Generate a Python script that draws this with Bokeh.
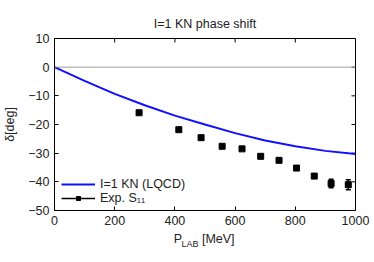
from bokeh.plotting import figure
from bokeh.models import (Span, ColumnDataSource, Legend, LegendItem,
                          FixedTicker, LinearAxis, Range1d)
from bokeh.embed import file_html
from bokeh.resources import INLINE

# LQCD curve
p_lab_curve = [0, 100, 200, 300, 400, 500, 600, 700, 800, 900, 1000]
delta_curve = [0.0, -4.8, -9.3, -13.3, -16.9, -20.0, -23.0, -25.6, -27.6, -29.2, -30.3]

# Experimental S11 phase shifts
p_lab_exp = [281, 413, 487, 557, 623, 685, 746, 804, 863, 919, 976]
delta_exp = [-15.9, -21.8, -24.6, -27.6, -28.5, -31.1, -32.5, -35.2, -38.0, -40.6, -41.0]
delta_err = [0.4, 0.4, 0.4, 0.4, 0.4, 0.4, 0.4, 0.5, 0.5, 1.5, 1.75]

x_ticks = [0, 200, 400, 600, 800, 1000]
y_ticks = [-50, -40, -30, -20, -10, 0, 10]

# pieces of the x-axis title "P_LAB [MeV]" and where along the axis they sit
xtitle_main = {410: "P", 544: "[MeV]"}
xtitle_sub = {450: "LAB"}

FONT = "Liberation Sans"
FS = "12.5px"
TXT = "#222222"

XMIN, XMAX, YMIN, YMAX = 0, 1000, -50, 10

p = figure(width=374, height=262, output_backend="svg", toolbar_location=None,
           x_range=Range1d(XMIN, XMAX), y_range=Range1d(YMIN, YMAX),
           min_border_left=53, min_border_right=19, min_border_top=38, min_border_bottom=52)
p.background_fill_color = "white"
p.border_fill_color = "white"
p.outline_line_color = "black"
p.outline_line_width = 1
p.grid.visible = False

p.title.text = "I=1 KN phase shift"
p.title.align = "center"
p.title.text_font = FONT
p.title.text_font_size = FS
p.title.text_font_style = "normal"
p.title.text_color = TXT
p.title.standoff = 16

p.xaxis.ticker = FixedTicker(ticks=x_ticks)
p.yaxis.ticker = FixedTicker(ticks=y_ticks)
p.yaxis.axis_label = "δ[deg]"
p.yaxis.axis_label_standoff = 8
p.yaxis.axis_label_text_font_style = "normal"

for ax in p.xaxis + p.yaxis:
    ax.major_tick_in = 4
    ax.major_tick_out = 0
    ax.minor_tick_line_color = None
    ax.major_label_text_font = FONT
    ax.major_label_text_font_size = FS
    ax.major_label_text_color = TXT
    ax.axis_label_text_font = FONT
    ax.axis_label_text_font_size = FS
    ax.axis_label_text_color = TXT
    ax.major_label_standoff = 5
    ax.axis_line_color = "black"

# x-axis title built from two label-only axes (gives a real subscript)
ax_main = LinearAxis(ticker=FixedTicker(ticks=list(xtitle_main)),
                     major_label_overrides=xtitle_main,
                     major_tick_in=0, major_tick_out=0, minor_tick_line_color=None,
                     axis_line_color=None, major_label_standoff=4,
                     major_label_text_font=FONT, major_label_text_font_size=FS,
                     major_label_text_color=TXT)
ax_sub = LinearAxis(ticker=FixedTicker(ticks=list(xtitle_sub)),
                    major_label_overrides=xtitle_sub,
                    major_tick_in=0, major_tick_out=0, minor_tick_line_color=None,
                    axis_line_color=None, major_label_standoff=-10,
                    major_label_text_font=FONT, major_label_text_font_size="9px",
                    major_label_text_color=TXT)
p.add_layout(ax_main, "below")
p.add_layout(ax_sub, "below")

# mirrored ticks on the top and right edges
tick_y = (YMAX - YMIN) / 172 * 4
tick_x = (XMAX - XMIN) / 301 * 4
p.segment(x0=x_ticks, y0=[YMAX] * len(x_ticks), x1=x_ticks, y1=[YMAX - tick_y] * len(x_ticks),
          line_color="black", line_width=1)
p.segment(x0=[XMAX] * len(y_ticks), y0=y_ticks, x1=[XMAX - tick_x] * len(y_ticks), y1=y_ticks,
          line_color="black", line_width=1)

p.add_layout(Span(location=0, dimension="width", line_color="#a0a0a0", line_width=1))

curve = p.line(p_lab_curve, delta_curve, line_color="#1010ff", line_width=2)

upper = [v + e for v, e in zip(delta_exp, delta_err)]
lower = [v - e for v, e in zip(delta_exp, delta_err)]
src = ColumnDataSource(dict(x=p_lab_exp, y=delta_exp, upper=upper, lower=lower))
bars = p.segment(x0="x", y0="lower", x1="x", y1="upper", source=src,
                 line_color="black", line_width=1.5)
p.scatter("x", "upper", source=src, marker="dash", size=5, line_color="black", line_width=1.5)
p.scatter("x", "lower", source=src, marker="dash", size=5, line_color="black", line_width=1.5)
pts = p.scatter("x", "y", source=src, marker="square", size=6,
                fill_color="black", line_color="black")

legend = Legend(items=[LegendItem(label="I=1 KN (LQCD)", renderers=[curve]),
                       LegendItem(label="Exp. S₁₁", renderers=[bars, pts])],
                location=(4, 2), background_fill_alpha=0, border_line_alpha=0,
                label_text_font=FONT, label_text_font_size=FS, label_text_color=TXT,
                label_text_line_height=0.95,
                glyph_width=34, glyph_height=10, label_height=10, spacing=0, padding=3,
                margin=0)
p.add_layout(legend)

open("out.html", "w").write(file_html(p, INLINE))
